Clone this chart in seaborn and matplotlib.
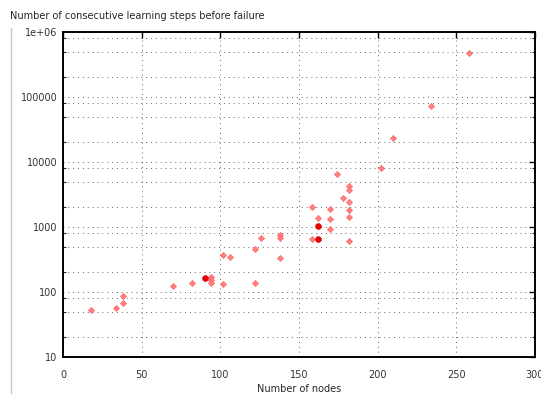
import matplotlib
matplotlib.use('Agg')
import matplotlib.pyplot as plt
import matplotlib.ticker as mticker
import seaborn as sns
import pandas as pd

# mezglu skaits un soļu skaits pirms kļūdas (nolasīts no attēla)
nodes = [18, 34, 38, 38, 70, 82, 94, 94, 94, 102, 102, 106, 122, 122, 126,
         138, 138, 138, 158, 158, 162, 170, 170, 170, 174, 178, 182, 182,
         182, 182, 182, 182, 202, 210, 234, 258]
steps = [53, 56, 68, 87, 125, 137, 168, 153, 139, 131, 371, 349, 136, 464, 684,
         753, 670, 337, 2010, 647, 1375, 1870, 1310, 930, 6530, 2760, 4310, 3670,
         2430, 1830, 1410, 615, 8200, 23200, 73400, 479000]

# izceltie punkti (tumši sarkani)
hl_nodes = [90, 162, 162]
hl_steps = [163, 1035, 647]

df = pd.DataFrame({'nodes': nodes, 'steps': steps})
df_hl = pd.DataFrame({'nodes': hl_nodes, 'steps': hl_steps})

sns.set_style('white')
plt.rcParams['font.family'] = ['DejaVu Sans']

fig = plt.figure(figsize=(5.41, 3.94), dpi=100)
ax = fig.add_axes([63 / 541, 1 - 357 / 394, (535 - 63) / 541, (357 - 32) / 394])

sns.scatterplot(data=df, x='nodes', y='steps', ax=ax, marker='D', s=10,
                color='#ff8080', edgecolor='#ff5a5a', linewidth=0.4, zorder=3)
sns.scatterplot(data=df_hl, x='nodes', y='steps', ax=ax, marker='o', s=18,
                color='#ee0000', edgecolor='#dd0000', linewidth=0.4, zorder=4)

ax.set_yscale('log')
ax.set_xlim(0, 300)
ax.set_ylim(10, 1e6)

ax.xaxis.set_major_locator(mticker.MultipleLocator(50))
ax.yaxis.set_major_locator(mticker.LogLocator(base=10, numticks=10))
ax.yaxis.set_minor_locator(mticker.LogLocator(base=10, subs=[2, 5, 8], numticks=10))
ax.yaxis.set_minor_formatter(mticker.NullFormatter())
ylabels = {10: '10', 100: '100', 1000: '1000', 10000: '10000',
           100000: '100000', 1000000: '1e+06'}
ax.yaxis.set_major_formatter(mticker.FuncFormatter(lambda v, p: ylabels.get(int(round(v)), '')))

grid_kw = dict(color='#666666', linestyle=(0, (1, 4)), linewidth=0.7)
ax.grid(True, which='major', axis='x', **grid_kw)
ax.grid(True, which='both', axis='y', **grid_kw)

for s in ax.spines.values():
    s.set_visible(True)
    s.set_color('black')
    s.set_linewidth(1.4)

ax.tick_params(axis='both', which='major', direction='in', length=4, width=1,
               top=True, right=True, labelsize=7, colors='black', pad=9)
ax.tick_params(axis='y', which='minor', direction='in', length=2, width=0.8,
               right=True, left=True)
ax.tick_params(axis='y', which='major', pad=4)
for lab in ax.get_xticklabels() + ax.get_yticklabels():
    lab.set_color('#333333')

ax.set_xlabel('Number of nodes', fontsize=7, labelpad=3)
ax.set_ylabel('')
fig.text(10 / 541, 1 - 16 / 394, 'Number of consecutive learning steps before failure',
         fontsize=7, va='center', ha='left')

# pelēka vertikāla līnija kreisajā malā
fig.add_artist(plt.Line2D([11 / 541, 11 / 541], [0, 1 - 28 / 394],
                          color='#c8c8c8', linewidth=1, transform=fig.transFigure))

fig.savefig('out.png', dpi=100)
